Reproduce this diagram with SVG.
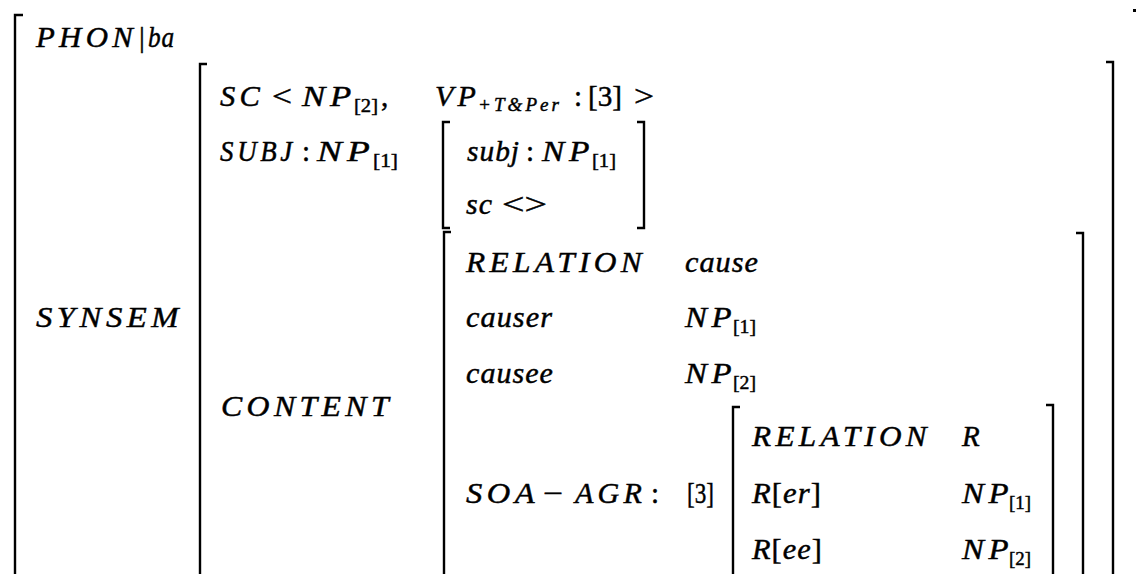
<svg xmlns="http://www.w3.org/2000/svg" width="1138" height="574" viewBox="0 0 1138 574">
<style>
text{font-family:"Liberation Serif","Times New Roman",serif;fill:#000;stroke:#000;stroke-width:0.45}
.t{font-style:italic;font-size:29px;letter-spacing:4px}
.l{font-style:italic;font-size:29px;letter-spacing:1px}
.u{font-style:normal;font-size:29px}
.s{font-style:normal;font-size:19px}
.si{font-style:italic;font-size:19px}
.b{fill:none;stroke:#000;stroke-width:2.4}
</style>
<rect width="1138" height="574" fill="#fff"/>

<g id="outer">
  <path class="b" d="M23,15 H15 V574"/>
  <text class="t" x="36" y="47" textLength="101" lengthAdjust="spacingAndGlyphs">PHON</text>
  <text class="u" x="139" y="47">|</text>
  <text class="l" x="148" y="47" textLength="27" lengthAdjust="spacingAndGlyphs">ba</text>
  <text class="t" x="36" y="327" textLength="147" lengthAdjust="spacingAndGlyphs">SYNSEM</text>
  <rect x="1133" y="9" width="3" height="3" fill="#000"/>
</g>

<g id="synsem">
  <path class="b" d="M207,64 H200 V574"/>
  <path class="b" d="M1106,62 H1113 V574"/>
  <text class="t" x="220" y="106" textLength="44" lengthAdjust="spacingAndGlyphs">SC</text>
  <text class="u" x="272" y="106" textLength="20" lengthAdjust="spacingAndGlyphs">&lt;</text>
  <text class="t" x="302" y="106" textLength="54" lengthAdjust="spacingAndGlyphs">NP</text>
  <text class="s" x="354" y="112" textLength="24" lengthAdjust="spacingAndGlyphs">[2]</text>
  <text class="u" x="381" y="106">,</text>
  <text class="t" x="435" y="106" textLength="45" lengthAdjust="spacingAndGlyphs">VP</text>
  <text class="si" x="478" y="111" textLength="81" lengthAdjust="spacing">+T&amp;Per</text>
  <text class="u" x="574" y="106">:</text>
  <text class="u" x="588" y="106" textLength="34" lengthAdjust="spacingAndGlyphs">[3]</text>
  <text class="u" x="634" y="106" textLength="20" lengthAdjust="spacingAndGlyphs">&gt;</text>
  <text class="t" x="220" y="161" textLength="76" lengthAdjust="spacingAndGlyphs">SUBJ</text>
  <text class="u" x="302" y="161">:</text>
  <text class="t" x="317" y="161" textLength="58" lengthAdjust="spacingAndGlyphs">NP</text>
  <text class="s" x="373" y="167" textLength="25" lengthAdjust="spacingAndGlyphs">[1]</text>
  <text class="t" x="221" y="416" textLength="172" lengthAdjust="spacingAndGlyphs">CONTENT</text>
</g>

<g id="subj-value">
  <path class="b" d="M450,122 H443 V228 H450"/>
  <path class="b" d="M637,122 H644 V228 H637"/>
  <text class="l" x="467" y="161" textLength="53" lengthAdjust="spacingAndGlyphs">subj</text>
  <text class="u" x="526" y="161">:</text>
  <text class="t" x="542" y="161" textLength="52" lengthAdjust="spacingAndGlyphs">NP</text>
  <text class="s" x="592" y="167" textLength="24" lengthAdjust="spacingAndGlyphs">[1]</text>
  <text class="l" x="466" y="214" textLength="27" lengthAdjust="spacingAndGlyphs">sc</text>
  <text class="u" x="502" y="214" textLength="45" lengthAdjust="spacingAndGlyphs">&lt;&gt;</text>
</g>

<g id="content">
  <path class="b" d="M451,232 H444 V574"/>
  <path class="b" d="M1076,233 H1083 V574"/>
  <text class="t" x="466" y="272" textLength="180" lengthAdjust="spacingAndGlyphs">RELATION</text>
  <text class="l" x="685" y="272" textLength="74" lengthAdjust="spacingAndGlyphs">cause</text>
  <text class="l" x="466" y="327" textLength="87" lengthAdjust="spacingAndGlyphs">causer</text>
  <text class="t" x="685" y="327" textLength="51" lengthAdjust="spacingAndGlyphs">NP</text>
  <text class="s" x="733" y="333" textLength="23" lengthAdjust="spacingAndGlyphs">[1]</text>
  <text class="l" x="466" y="383" textLength="88" lengthAdjust="spacingAndGlyphs">causee</text>
  <text class="t" x="685" y="383" textLength="51" lengthAdjust="spacingAndGlyphs">NP</text>
  <text class="s" x="733" y="389" textLength="23" lengthAdjust="spacingAndGlyphs">[2]</text>
  <text class="t" x="466" y="503" textLength="73" lengthAdjust="spacingAndGlyphs">SOA</text>
  <text class="u" x="543" y="503" textLength="20" lengthAdjust="spacingAndGlyphs">−</text>
  <text class="t" x="575" y="503" textLength="71" lengthAdjust="spacingAndGlyphs">AGR</text>
  <text class="u" x="651" y="503">:</text>
  <text class="u" x="687" y="503" textLength="27" lengthAdjust="spacingAndGlyphs">[3]</text>
</g>

<g id="soa-agr">
  <path class="b" d="M740,407 H733 V574"/>
  <path class="b" d="M1046,405 H1053 V574"/>
  <text class="t" x="752" y="446" textLength="179" lengthAdjust="spacingAndGlyphs">RELATION</text>
  <text class="t" x="962" y="446">R</text>
  <text class="l" x="752" y="503" textLength="70" lengthAdjust="spacingAndGlyphs">R<tspan class="u">[</tspan>er<tspan class="u">]</tspan></text>
  <text class="t" x="962" y="503" textLength="51" lengthAdjust="spacingAndGlyphs">NP</text>
  <text class="s" x="1009" y="509" textLength="22" lengthAdjust="spacingAndGlyphs">[1]</text>
  <text class="l" x="752" y="559" textLength="71" lengthAdjust="spacingAndGlyphs">R<tspan class="u">[</tspan>ee<tspan class="u">]</tspan></text>
  <text class="t" x="962" y="559" textLength="51" lengthAdjust="spacingAndGlyphs">NP</text>
  <text class="s" x="1009" y="565" textLength="22" lengthAdjust="spacingAndGlyphs">[2]</text>
</g>
</svg>
